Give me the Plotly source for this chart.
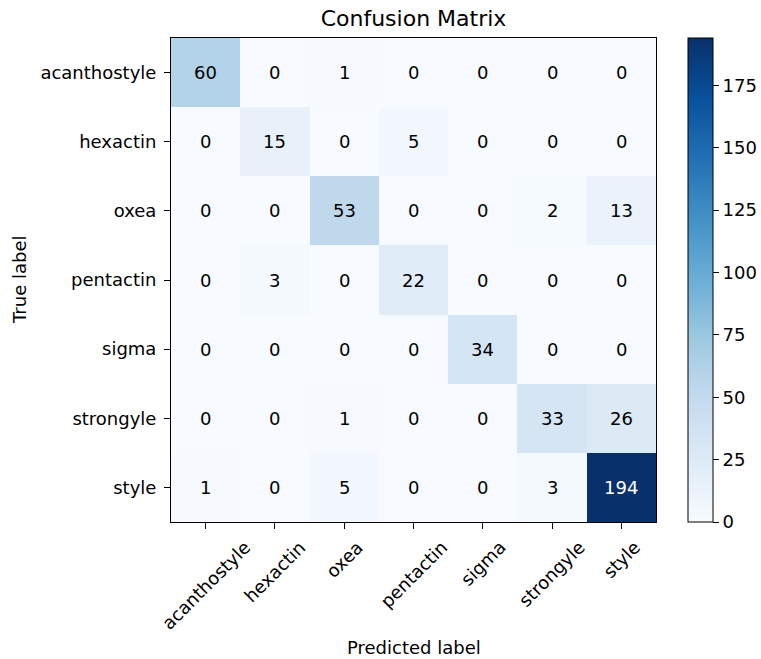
import plotly.graph_objects as go

# Class names and confusion counts (rows = true, columns = predicted)
classes = ["acanthostyle", "hexactin", "oxea", "pentactin", "sigma", "strongyle", "style"]
counts = [
    [60, 0, 1, 0, 0, 0, 0],
    [0, 15, 0, 5, 0, 0, 0],
    [0, 0, 53, 0, 0, 2, 13],
    [0, 3, 0, 22, 0, 0, 0],
    [0, 0, 0, 0, 34, 0, 0],
    [0, 0, 1, 0, 0, 33, 26],
    [1, 0, 5, 0, 0, 3, 194],
]
cbar_ticks = [0, 25, 50, 75, 100, 125, 150, 175]

W, H = 761, 659
L, R, T, B = 171, 105, 38, 137
pw, ph = W - L - R, H - T - B

FONT = "DejaVu Sans"
FS = 18
n = len(classes)
vmax = max(max(r) for r in counts)
thresh = vmax / 2.0

fig = go.Figure(
    go.Heatmap(
        z=counts,
        x=classes,
        y=classes,
        colorscale="Blues",
        zmin=0,
        zmax=vmax,
        hoverinfo="skip",
        colorbar=dict(
            x=(688 - L) / pw,
            xanchor="left",
            y=0.5,
            yanchor="middle",
            len=1.0,
            lenmode="fraction",
            thickness=25,
            thicknessmode="pixels",
            outlinewidth=1,
            outlinecolor="black",
            tickvals=cbar_ticks,
            ticks="outside",
            ticklen=6,
            tickcolor="black",
            tickfont=dict(family=FONT, size=FS, color="black"),
            xpad=0,
            ypad=0,
        ),
    )
)

annotations = []
# cell values; dark cells get white text
for i, row in enumerate(counts):
    for j, v in enumerate(row):
        annotations.append(
            dict(
                x=classes[j],
                y=classes[i],
                xref="x",
                yref="y",
                text=str(v),
                showarrow=False,
                font=dict(family=FONT, size=FS, color="white" if v > thresh else "black"),
            )
        )

# rotated x tick labels, centred under each tick
for c in classes:
    annotations.append(
        dict(
            x=c, y=0, xref="x", yref="paper",
            text=c, showarrow=False, textangle=-45,
            xanchor="center", yanchor="top", yshift=-12,
            font=dict(family=FONT, size=FS, color="black"),
        )
    )

annotations.append(
    dict(
        x=0.5, y=-(647 - (H - B)) / ph, xref="paper", yref="paper",
        text="Predicted label", showarrow=False, yanchor="middle",
        font=dict(family=FONT, size=FS, color="black"),
    )
)
annotations.append(
    dict(
        x=(19 - L) / pw, y=0.5, xref="paper", yref="paper",
        text="True label", showarrow=False, textangle=-90, xanchor="center",
        font=dict(family=FONT, size=FS, color="black"),
    )
)

axis_common = dict(
    showline=True,
    linecolor="black",
    linewidth=1,
    mirror=True,
    ticks="outside",
    ticklen=6,
    tickcolor="black",
    showgrid=False,
    zeroline=False,
    tickfont=dict(family=FONT, size=FS, color="black"),
)

fig.update_layout(
    width=W,
    height=H,
    margin=dict(l=L, r=R, t=T, b=B, autoexpand=False),
    paper_bgcolor="white",
    plot_bgcolor="white",
    title=dict(
        text="Confusion Matrix",
        x=0.5,
        xref="paper",
        y=1 - 18 / H,
        yref="container",
        yanchor="middle",
        font=dict(family=FONT, size=22, color="black"),
    ),
    xaxis=dict(axis_common, showticklabels=False, autorange=False, range=[-0.5, n - 0.5]),
    yaxis=dict(axis_common, autorange=False, range=[n - 0.5, -0.5], ticklabelstandoff=4),
    annotations=annotations,
)

fig.write_html("out.html")
